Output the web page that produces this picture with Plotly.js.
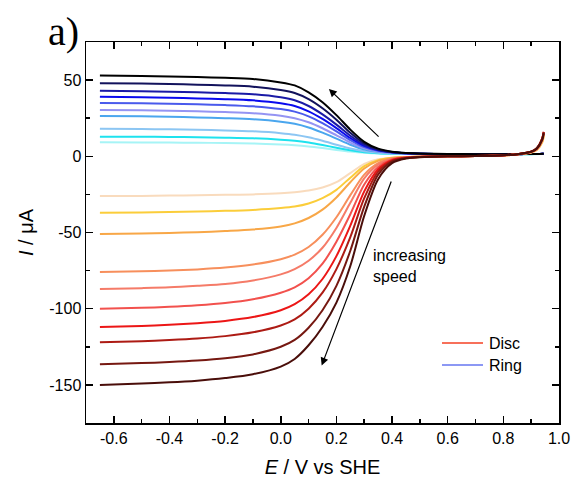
<!DOCTYPE html>
<html>
<head>
<meta charset="utf-8">
<script src="https://cdn.plot.ly/plotly-3.0.1.min.js"></script>
<style>html,body{margin:0;padding:0;background:#fff;}#chart{width:576px;height:488px;}</style>
</head>
<body>
<div id="chart"></div>
<script>
// Potential grid (V vs SHE)
const E = [-0.65,-0.5,-0.4,-0.3,-0.2,-0.1,0,0.05,0.1,0.15,0.2,0.25,0.3,0.35,0.4,0.45,0.5,0.6,0.7,0.8,0.85,0.9,0.92,0.94,0.945];

// Disc currents (µA), light -> dark
const disc1  = [-26,-26,-25.8,-25.6,-25.3,-25,-24.3,-23.6,-22.5,-20.5,-17,-11,-5,-2,-1,-0.5,-0.3,0,0.2,0.6,1.2,2.5,4,9,13];
const disc2  = [-37,-36.8,-36.5,-36.2,-35.8,-35.2,-34,-33,-31,-27.5,-22,-14,-6.5,-2.5,-1,-0.5,-0.3,0,0.2,0.6,1.2,2.6,4.2,9.5,13.5];
const disc3  = [-51,-50.7,-50.3,-49.8,-49,-48,-46,-44,-40.5,-35,-27,-17,-8,-3,-1.2,-0.5,-0.3,0,0.2,0.6,1.3,2.7,4.4,10,14];
const disc4  = [-76,-75.5,-75,-74.2,-73,-71,-67.5,-64.5,-59.5,-51.5,-40,-25.5,-12,-4.5,-1.5,-0.6,-0.3,0,0.2,0.6,1.3,2.8,4.6,10.5,14.5];
const disc5  = [-87,-86.5,-86,-85,-83.8,-81.5,-77.5,-74,-68.5,-60,-47,-30.5,-14.5,-5.5,-1.8,-0.7,-0.3,0,0.2,0.6,1.3,2.9,4.8,11,15];
const disc6  = [-100,-99.4,-98.8,-97.8,-96.3,-93.8,-89.5,-86,-80,-70.5,-56,-38,-18.5,-7,-2,-0.8,-0.3,0,0.2,0.7,1.4,3,5,11.5,15.5];
const disc7  = [-112,-111.3,-110.6,-109.5,-108,-105.5,-101,-97,-90.5,-80.5,-65.5,-45.5,-23,-8.5,-2.5,-0.9,-0.4,0,0.2,0.7,1.4,3,5.2,12,16];
const disc8  = [-122,-121.3,-120.6,-119.6,-118,-115.5,-111,-107,-100,-89.5,-74,-53,-27.5,-10,-3,-1,-0.4,0,0.2,0.7,1.4,3.1,5.3,12,16];
const disc9  = [-136.5,-135.7,-135,-134,-132.5,-130,-125,-120.5,-112.5,-101,-85,-62,-33,-12,-3.5,-1.2,-0.5,0,0.2,0.7,1.4,3.1,5.3,11.5,15.5];
const disc10 = [-150,-149,-148.3,-147.2,-145.5,-143,-138,-133,-124,-112,-96,-72,-39,-15,-4.5,-1.5,-0.6,0,0.2,0.7,1.4,3,5,11,15];

// Ring currents (µA), light -> dark
const ring1  = [9.2,9.1,9,8.9,8.7,8.4,7.8,7.3,6.5,5.4,4.2,3.1,2.3,1.8,1.6,1.5,1.4,1.4,1.4,1.4,1.4,1.4,1.4,1.5,1.5];
const ring2  = [12.9,12.8,12.7,12.5,12.2,11.8,10.9,10.2,9,7.4,5.6,3.9,2.7,2,1.7,1.6,1.5,1.4,1.4,1.4,1.4,1.4,1.5,1.5,1.5];
const ring3  = [18,17.9,17.7,17.4,17,16.4,15.2,14.2,12.5,10.2,7.6,5.1,3.3,2.3,1.9,1.7,1.5,1.4,1.4,1.4,1.4,1.5,1.5,1.5,1.5];
const ring4  = [26.4,26.2,25.9,25.5,25,24.3,22.7,21.3,18.9,15.5,11.6,7.6,4.5,2.9,2.2,1.8,1.6,1.5,1.4,1.4,1.4,1.5,1.5,1.5,1.6];
const ring5  = [30.4,30.2,29.9,29.5,29,28.3,26.6,25,22.3,18.4,13.8,9,5.2,3.2,2.3,1.8,1.6,1.5,1.4,1.4,1.4,1.5,1.5,1.5,1.6];
const ring6  = [35,34.8,34.5,34.1,33.6,32.8,31,29.3,26.2,21.7,16.3,10.6,6,3.6,2.5,1.9,1.6,1.5,1.4,1.4,1.4,1.5,1.5,1.6,1.6];
const ring7  = [39,38.7,38.4,38,37.5,36.7,34.8,33,29.5,24.5,18.5,12,6.8,3.9,2.6,2,1.7,1.5,1.4,1.4,1.4,1.5,1.5,1.6,1.6];
const ring8  = [43,42.7,42.4,42,41.5,40.7,38.7,36.8,33,27.5,20.8,13.5,7.5,4.2,2.7,2,1.7,1.5,1.4,1.4,1.4,1.5,1.5,1.6,1.6];
const ring9  = [48,47.7,47.4,47,46.5,45.7,43.5,41.5,37.5,31.5,24,15.5,8.5,4.5,2.8,2.1,1.7,1.5,1.4,1.4,1.4,1.5,1.5,1.6,1.6];
const ring10 = [53,52.7,52.4,52,51.5,50.8,48.5,46.5,42,35.5,27,17.5,9.5,5,3,2.2,1.8,1.5,1.4,1.4,1.4,1.5,1.5,1.6,1.6];

const discSeries = [disc1,disc2,disc3,disc4,disc5,disc6,disc7,disc8,disc9,disc10];
const ringSeries = [ring1,ring2,ring3,ring4,ring5,ring6,ring7,ring8,ring9,ring10];
const discColors = ['#f9dbbd','#fbcd3a','#f8a747','#f78f5c','#f57b68','#f2514d','#ec1616','#ad1b14','#761811','#4a0e0a'];
const ringColors = ['#a6f4f6','#1ee2ee','#8cc6f3','#4aa6ee','#9494f3','#4a5aec','#0a0aee','#1a1aa6','#12125c','#000000'];

const xTickVals = [-0.6,-0.4,-0.2,0.0,0.2,0.4,0.6,0.8,1.0];
const xTickText = ['-0.6','-0.4','-0.2','0.0','0.2','0.4','0.6','0.8','1.0'];
const xMinorVals = [-0.7,-0.5,-0.3,-0.1,0.1,0.3,0.5,0.7,0.9];
const yTickVals = [-150,-100,-50,0,50];
const yTickText = ['-150','-100','-50','0','50'];
const yMinorVals = [-175,-125,-75,-25,25,75];

const legendNames = ['Disc','Ring'];
const legendColors = ['#f7705a','#8c98f4'];

const traces = [];
ringSeries.forEach((s,i)=>traces.push({x:E,y:s,type:'scatter',mode:'lines',line:{color:ringColors[i],width:2,shape:'spline',smoothing:0.8},showlegend:false,hoverinfo:'skip'}));
discSeries.forEach((s,i)=>traces.push({x:E,y:s,type:'scatter',mode:'lines',line:{color:discColors[i],width:2,shape:'spline',smoothing:0.8},showlegend:false,hoverinfo:'skip'}));

const FONT = 'Arial, "Liberation Sans", sans-serif';
const L = 86, R = 559, T = 42, B = 423;
const px = v => (v - L) / (R - L);
const py = v => (B - v) / (B - T);

const axisCommon = {
  showline:true, linecolor:'#000', linewidth:1.5, mirror:'allticks',
  ticks:'inside', ticklen:7, tickwidth:1.5, tickcolor:'#000',
  showgrid:false, zeroline:false, tickmode:'array',
  tickfont:{family:FONT,size:16,color:'#000'}
};

const layout = {
  width:576, height:488,
  margin:{l:L, r:576-R, t:T, b:488-B, pad:0},
  paper_bgcolor:'#fff', plot_bgcolor:'#fff',
  showlegend:false,
  xaxis:Object.assign({}, axisCommon, {
    range:[-0.7,1.0], tickvals:xTickVals, ticktext:xTickText,
    minor:{tickvals:xMinorVals, ticks:'inside', ticklen:4, tickwidth:1.5, tickcolor:'#000'},
    title:{text:'<i>E</i> / V vs SHE', font:{family:FONT,size:20,color:'#000'}, standoff:14}
  }),
  yaxis:Object.assign({}, axisCommon, {
    range:[-175,75], tickvals:yTickVals, ticktext:yTickText,
    minor:{tickvals:yMinorVals, ticks:'inside', ticklen:4, tickwidth:1.5, tickcolor:'#000'},
    title:{text:'<i>I</i> / μA', font:{family:FONT,size:20,color:'#000'}, standoff:10}
  }),
  shapes:[
    {type:'line', xref:'paper', yref:'paper', x0:px(442), x1:px(483), y0:py(343), y1:py(343), line:{color:legendColors[0], width:2}},
    {type:'line', xref:'paper', yref:'paper', x0:px(442), x1:px(483), y0:py(365), y1:py(365), line:{color:legendColors[1], width:2}}
  ],
  annotations:[
    {text:'a)', xref:'paper', yref:'paper', x:px(46), y:py(32), xanchor:'left', yanchor:'middle', showarrow:false, font:{family:'"Liberation Serif", "Times New Roman", serif', size:40, color:'#000'}},
    {text:legendNames[0], xref:'paper', yref:'paper', x:px(487), y:py(343), xanchor:'left', yanchor:'middle', showarrow:false, font:{family:FONT,size:16,color:'#000'}},
    {text:legendNames[1], xref:'paper', yref:'paper', x:px(487), y:py(365), xanchor:'left', yanchor:'middle', showarrow:false, font:{family:FONT,size:16,color:'#000'}},
    {text:'increasing<br>speed', xref:'x', yref:'y', x:0.325, y:-72, xanchor:'left', yanchor:'middle', align:'left', showarrow:false, font:{family:FONT,size:16,color:'#000'}},
    {text:'', xref:'x', yref:'y', axref:'x', ayref:'y', x:0.173, y:44.2, ax:0.357, ay:12, showarrow:true, arrowhead:2, arrowsize:1.3, arrowwidth:1.2, arrowcolor:'#000'},
    {text:'', xref:'x', yref:'y', axref:'x', ayref:'y', x:0.147, y:-137.3, ax:0.399, ay:-15.6, showarrow:true, arrowhead:2, arrowsize:1.3, arrowwidth:1.2, arrowcolor:'#000'}
  ]
};

Plotly.newPlot('chart', traces, layout, {staticPlot:true, displayModeBar:false});
</script>
</body>
</html>
